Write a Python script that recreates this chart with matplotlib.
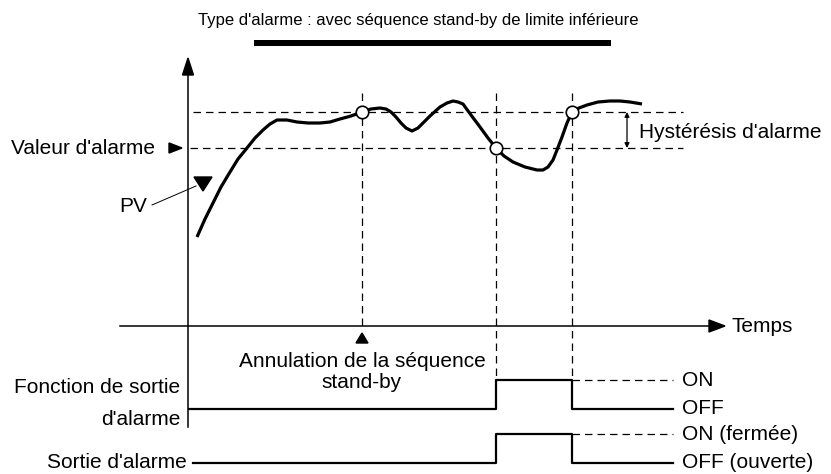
import matplotlib
matplotlib.use('Agg')
import matplotlib.pyplot as plt
from matplotlib.patches import Polygon, Rectangle
import numpy as np

plt.rcParams['font.family'] = ['Liberation Sans', 'DejaVu Sans']

# PV curve (x = time px, y = value px, y grows downwards)
pv_t = [197, 205, 213, 221, 230, 238, 247, 255, 263, 270, 277, 287, 297, 308,
        320, 330, 340, 351, 362, 371, 380, 386, 391, 396, 401, 406, 412, 418,
        423, 430, 440, 447, 453, 458, 463, 471, 480, 488, 496, 504, 513, 525,
        537, 543, 548, 553, 557, 562, 567, 572, 579, 587, 598, 610, 620, 630, 642]
pv_y = [237, 219, 203, 187, 172, 159, 148, 138, 130, 124, 120, 120, 122, 123,
        123, 122, 119, 116, 112, 109, 108, 109, 112, 117, 123, 128, 131, 128,
        123, 116, 107, 103, 101, 102, 104, 115, 127, 138, 148, 156, 162, 167,
        170, 170, 167, 160, 150, 137, 123, 112, 108, 105, 102, 101, 101, 102, 104]

alarm_level = 148
hyst_level = 112
cancel_t = 362
on_t = 496
off_t = 572
circle_t = [362, 496, 572]
circle_y = [112, 148, 112]

func_on, func_off = 380, 409
out_on, out_off = 434, 463

fig = plt.figure(figsize=(8.31, 4.74), dpi=100)
ax = fig.add_axes([0, 0, 1, 1])
ax.set_xlim(0, 831)
ax.set_ylim(474, 0)
ax.axis('off')

k = 'black'
fs = 15
dash = dict(color=k, lw=0.9, linestyle=(0, (6, 4)))

# title
ax.text(418, 20, "Type d'alarme : avec séquence stand-by de limite inférieure",
        ha='center', va='center', fontsize=12)
ax.add_patch(Rectangle((254, 40), 357, 6, color=k, lw=0))

# axes
ax.plot([188, 188], [72, 427], color=k, lw=1.1)
ax.add_patch(Polygon([[188, 58], [182.5, 75], [193.5, 75]], closed=True, color=k))
ax.plot([120, 712], [326, 326], color=k, lw=1.1)
ax.add_patch(Polygon([[725, 326], [709, 320], [709, 332]], closed=True, color=k))
ax.text(732, 326, 'Temps', ha='left', va='center', fontsize=fs)

# dashed levels
ax.plot([193, 683], [hyst_level, hyst_level], **dash)
ax.plot([190, 683], [alarm_level, alarm_level], **dash)
ax.plot([cancel_t, cancel_t], [93, 326], **dash)
ax.plot([on_t, on_t], [93, func_on], **dash)
ax.plot([off_t, off_t], [93, func_on], **dash)

# PV curve and switching points
ax.plot(pv_t, pv_y, color=k, lw=2.3, solid_capstyle='butt', solid_joinstyle='round')
ax.plot(circle_t, circle_y, 'o', ms=9, mfc='white', mec=k, mew=1.2)

# left labels
ax.text(155, alarm_level, "Valeur d'alarme", ha='right', va='center', fontsize=fs)
ax.add_patch(Polygon([[182, 148], [169, 143], [169, 153]], closed=True, color=k))
ax.text(147, 207, 'PV', ha='right', va='center', fontsize=fs)
ax.plot([152, 196], [205, 186], color=k, lw=0.7)
ax.add_patch(Polygon([[194, 177], [212, 177], [203, 191]], closed=True, color=k))

# hysteresis arrow
ax.annotate('', xy=(627, hyst_level), xytext=(627, alarm_level),
            arrowprops=dict(arrowstyle='<|-|>', color=k, lw=0.9,
                            mutation_scale=7, shrinkA=0, shrinkB=0))
ax.text(639, 132, "Hystérésis d'alarme", ha='left', va='center', fontsize=fs)

# stand-by cancel marker
ax.add_patch(Polygon([[cancel_t, 333], [356, 343], [368, 343]], closed=True, color=k))
ax.text(cancel_t, 367, 'Annulation de la séquence', ha='center', va='baseline', fontsize=fs)
ax.text(cancel_t, 388, 'stand-by', ha='center', va='baseline', fontsize=fs)

# alarm output function step
ax.plot([189, on_t, on_t, off_t, off_t, 673],
        [func_off, func_off, func_on, func_on, func_off, func_off], color=k, lw=1.6)
ax.plot([off_t, 673], [func_on, func_on], **dash)
ax.text(180, 393, 'Fonction de sortie', ha='right', va='baseline', fontsize=fs)
ax.text(180, 425, "d'alarme", ha='right', va='baseline', fontsize=fs)
ax.text(682, func_on, 'ON', ha='left', va='center', fontsize=fs)
ax.text(682, func_off, 'OFF', ha='left', va='center', fontsize=fs)

# alarm output step
ax.plot([193, on_t, on_t, off_t, off_t, 673],
        [out_off, out_off, out_on, out_on, out_off, out_off], color=k, lw=1.6)
ax.plot([off_t, 673], [out_on, out_on], **dash)
ax.text(187, 468, "Sortie d'alarme", ha='right', va='baseline', fontsize=fs)
ax.text(682, out_on, 'ON (fermée)', ha='left', va='center', fontsize=fs)
ax.text(682, out_off, 'OFF (ouverte)', ha='left', va='center', fontsize=fs)

fig.savefig('out.png', dpi=100)
